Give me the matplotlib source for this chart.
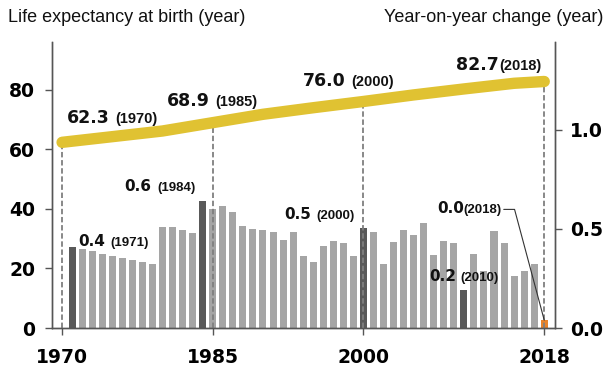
import matplotlib.pyplot as plt
from matplotlib.ticker import FormatStrFormatter

# year-on-year change in life expectancy (years), 1971-2018
change_years = list(range(1971, 2019))
change = [0.41, 0.40, 0.39, 0.375, 0.365, 0.355, 0.345, 0.335, 0.325, 0.51,
          0.51, 0.495, 0.48, 0.64, 0.60, 0.615, 0.585, 0.515, 0.50, 0.495,
          0.485, 0.445, 0.485, 0.365, 0.335, 0.415, 0.44, 0.43, 0.365, 0.505,
          0.485, 0.325, 0.435, 0.495, 0.47, 0.53, 0.37, 0.44, 0.43, 0.19,
          0.375, 0.29, 0.49, 0.43, 0.26, 0.29, 0.325, 0.04]
dark_years = [1971, 1984, 2000, 2010]
latest_year = 2018

# life expectancy at birth (years)
le_years = [1970, 1975, 1980, 1985, 1990, 1995, 2000, 2005, 2010, 2015, 2018]
life_exp = [62.3, 64.2, 66.1, 68.9, 71.7, 73.9, 76.0, 78.2, 80.2, 82.1, 82.7]

key_years = [1970, 1985, 2000, 2018]
key_le = [62.3, 68.9, 76.0, 82.7]

LIGHT = '#A5A5A5'
DARK = '#595959'
ORANGE = '#E8832A'
YELLOW = '#E0C232'
NUM_FONT = 'DejaVu Sans'
YEAR_FONT = 'Liberation Sans'

bar_colors = []
for yr in change_years:
    if yr == latest_year:
        bar_colors.append(ORANGE)
    elif yr in dark_years:
        bar_colors.append(DARK)
    else:
        bar_colors.append(LIGHT)

fig = plt.figure(figsize=(6.05, 3.67), dpi=100)
ax = fig.add_axes([0.086, 0.106, 0.831, 0.780])
ax2 = ax.twinx()

ax2.bar(change_years, change, width=0.7, color=bar_colors)

# life expectancy line sits above the bars
ax.set_zorder(ax2.get_zorder() + 1)
ax.patch.set_visible(False)
ax.vlines(key_years, 0, key_le, colors='#7F7F7F', linestyles=(0, (3, 1.5)), lw=1.3, zorder=2)
ax.plot(le_years, life_exp, color=YELLOW, lw=8.2, solid_capstyle='round', zorder=3)

ax.set_xlim(1969, 2019.05)
ax.set_ylim(0, 96)
ax2.set_ylim(0, 1.442)

ax.set_xticks(key_years)
ax.set_yticks([0, 20, 40, 60, 80])
ax2.set_yticks([0.0, 0.5, 1.0])
ax2.yaxis.set_major_formatter(FormatStrFormatter('%.1f'))

for a in (ax, ax2):
    a.spines['top'].set_visible(False)
    for s in ('left', 'right', 'bottom'):
        a.spines[s].set_color('#555555')
        a.spines[s].set_linewidth(1.0)
ax.tick_params(axis='y', length=5, width=1, color='#555555', pad=7)
ax.tick_params(axis='x', length=5, width=1, color='#555555', pad=9)
ax2.tick_params(axis='y', length=5, width=1, color='#555555', pad=6)
for lab in ax.get_xticklabels() + ax.get_yticklabels() + ax2.get_yticklabels():
    lab.set_fontfamily(NUM_FONT)
    lab.set_fontweight('bold')
    lab.set_fontsize(13.5)

fig.text(0.013, 0.951, 'Life expectancy at birth (year)', family=YEAR_FONT,
         fontsize=13, ha='left', va='center', color='#111111')
fig.text(0.997, 0.951, 'Year-on-year change (year)', family=YEAR_FONT,
         fontsize=13, ha='right', va='center', color='#111111')

fig.canvas.draw()
renderer = fig.canvas.get_renderer()


def value_label(x, y, num, yr, num_size, yr_size, gap):
    t1 = ax.text(x, y, num, family=NUM_FONT, fontweight='bold', fontsize=num_size,
                 ha='left', va='baseline', color='#111111', zorder=5)
    w = t1.get_window_extent(renderer).width
    t2 = ax.annotate(yr, xy=(x, y), xytext=(w + gap, 0), textcoords='offset pixels',
                     family=YEAR_FONT, fontweight='bold', fontsize=yr_size,
                     ha='left', va='baseline', color='#111111', zorder=5)
    return t2


# life expectancy labels
value_label(1970.5, 68.8, '62.3', '(1970)', 12.5, 10.5, 5)
value_label(1980.45, 74.4, '68.9', '(1985)', 12.5, 10.5, 5)
value_label(1994.0, 81.1, '76.0', '(2000)', 12.5, 10.5, 5)
value_label(2009.2, 86.5, '82.7', '(2018)', 12.5, 10.5, 1)

# change labels
value_label(1976.2, 45.9, '0.6', '(1984)', 11, 9.5, 6)
value_label(1971.6, 27.6, '0.4', '(1971)', 11, 9.5, 5)
value_label(1992.1, 36.7, '0.5', '(2000)', 11, 9.5, 5)
value_label(2006.55, 15.9, '0.2', '(2010)', 11, 9.5, 4)
last = value_label(2007.3, 38.6, '0.0', '(2018)', 11, 9.5, 0)

bb = last.get_window_extent(renderer)
ax.annotate('', xy=(latest_year, change[-1]), xycoords=ax2.transData,
            xytext=(bb.x1 + 2, bb.y0 + bb.height * 0.55), textcoords='figure pixels',
            arrowprops=dict(arrowstyle='-', color='#333333', lw=0.8, shrinkA=0, shrinkB=0,
                            connectionstyle='angle,angleA=0,angleB=105,rad=0'),
            zorder=5)

fig.savefig('out.png', dpi=100)
